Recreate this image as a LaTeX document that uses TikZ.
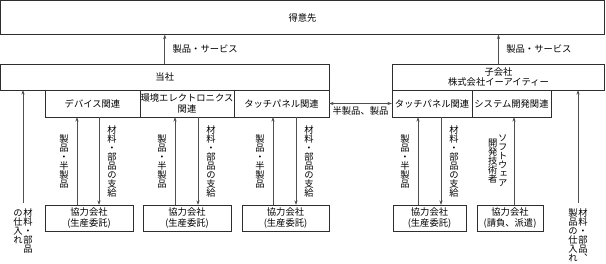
\documentclass[tikz,border=0pt]{standalone}
\usepackage{fontspec}
\setmainfont{Noto Sans CJK JP}
\newfontfamily\tatefont[RawFeature=+vert]{Noto Sans CJK JP}
\usepackage{xcolor}
\definecolor{ink}{HTML}{2E2E2E}
\definecolor{wire}{HTML}{505050}
\usetikzlibrary{arrows.meta,positioning}
\setlength{\lineskiplimit}{-5pt}
\tikzset{
  >={Stealth[length=4.5pt,width=3pt]},
  font=\fontsize{9.3pt}{11pt}\selectfont,
  box/.style={draw=ink,line width=0.8pt,inner sep=0pt,outer sep=0pt,align=center,
              minimum height=26pt,text=black},
  sub/.style={box,minimum height=27pt},
  flow/.style={->,draw=wire,line width=0.7pt},
  lbl/.style={inner sep=0pt,text=black},
  tate/.style={lbl,align=center,font={\tatefont\fontsize{9.3pt}{9pt}\selectfont}},
}
\newcommand{\tcol}[2][t]{\parbox[#1]{10pt}{\centering #2}}

\begin{document}
\begin{tikzpicture}[x=1pt,y=1pt]
  \useasboundingbox (0,0) rectangle (606,-264);

  \node[box,minimum width=604pt,minimum height=34pt] (cust) at (302.5,-17.5) {得意先};
  \node[box,minimum width=328.5pt] (tosha) at (164.75,-77) {当社};
  \node[box,minimum width=212pt,font=\fontsize{9.3pt}{10pt}\selectfont] (ko) at (498.5,-77)
    {子会社\\株式会社イーアイティー};

  \node[sub,minimum width=95pt] (dev) at (92.5,-103.5) {デバイス関連};
  \node[sub,minimum width=94pt,right=0pt of dev] (env) {環境エレクトロニクス\\関連};
  \node[sub,minimum width=95pt,right=0pt of env] (tp) {タッチパネル関連};
  \node[sub,minimum width=80pt] (tp2) at (432,-103.5) {タッチパネル関連};
  \node[sub,minimum width=79pt,right=0pt of tp2] (sys) {システム開発関連};

  \node[box,minimum width=88pt] (k1) at (89,-218) {協力会社\\(生産委託)};
  \node[box,minimum width=88pt] (k2) at (187,-218) {協力会社\\(生産委託)};
  \node[box,minimum width=87pt] (k3) at (285.5,-218) {協力会社\\(生産委託)};
  \node[box,minimum width=73pt] (k4) at (429.5,-218) {協力会社\\(生産委託)};
  \node[box,minimum width=66pt] (k5) at (510,-218) {協力会社\\(請負、派遣)};

  \node[tate,anchor=north] (buyl) at (23,-208)
    {\tcol{の\\仕\\入\\れ}\tcol{材\\料\\・\\部\\品}};
  \node[tate,anchor=north] (buyr) at (578,-208)
    {\tcol{製\\品\\の\\仕\\入\\れ}\tcol{材\\料\\・\\部\\品\\、}};
  \coordinate (buyl-top) at ([yshift=5pt]buyl.north);
  \coordinate (buyr-top) at ([yshift=5pt]buyr.north);

  \draw[flow] (tosha.north) -- (tosha.north |- cust.south)
    node[lbl,midway,right=7.5pt] {製品・サービス};
  \draw[flow] (ko.north) -- (ko.north |- cust.south)
    node[lbl,midway,right=7.5pt] {製品・サービス};
  \draw[flow,<->] (tp.east) -- (tp2.west)
    node[lbl,midway,below=3pt] {半製品、製品};

  \draw[flow] (buyl-top) -- (buyl-top |- tosha.south);
  \draw[flow] (buyr-top) -- (buyr-top |- ko.south);

  \draw[flow] ([xshift=-12pt]k1.north) -- ([xshift=-12pt]k1.north |- dev.south)
    node[tate,midway,left=8pt] {製\\品\\・\\半\\製\\品};
  \draw[flow] ([xshift=10pt]k1.north |- dev.south) -- ([xshift=10pt]k1.north)
    node[tate,midway,right=8pt] {材\\料\\・\\部\\品\\の\\支\\給};
  \draw[flow] ([xshift=-12pt]k2.north) -- ([xshift=-12pt]k2.north |- env.south)
    node[tate,midway,left=8pt] {製\\品\\・\\半\\製\\品};
  \draw[flow] ([xshift=11pt]k2.north |- env.south) -- ([xshift=11pt]k2.north)
    node[tate,midway,right=8pt] {材\\料\\・\\部\\品\\の\\支\\給};
  \draw[flow] ([xshift=-12.5pt]k3.north) -- ([xshift=-12.5pt]k3.north |- tp.south)
    node[tate,midway,left=8pt] {製\\品\\・\\半\\製\\品};
  \draw[flow] ([xshift=10.5pt]k3.north |- tp.south) -- ([xshift=10.5pt]k3.north)
    node[tate,midway,right=8pt] {材\\料\\・\\部\\品\\の\\支\\給};
  \draw[flow] ([xshift=-11.5pt]k4.north) -- ([xshift=-11.5pt]k4.north |- tp2.south)
    node[tate,midway,left=8pt] {製\\品\\・\\半\\製\\品};
  \draw[flow] ([xshift=11.5pt]k4.north |- tp2.south) -- ([xshift=11.5pt]k4.north)
    node[tate,midway,right=8pt] {材\\料\\・\\部\\品\\の\\支\\給};
  \draw[flow] ([xshift=4pt]k5.north) -- ([xshift=4pt]k5.north |- sys.south)
    node[tate,midway,left=6pt] {\tcol[c]{開\\発\\技\\術\\者}\tcol[c]{ソ\\フ\\ト\\ウ\\ェ\\ア}};
\end{tikzpicture}
\end{document}
